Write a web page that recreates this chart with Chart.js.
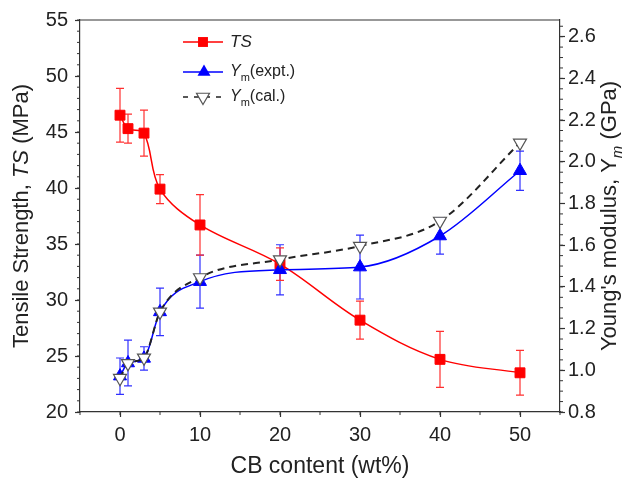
<!DOCTYPE html>
<html>
<head>
<meta charset="utf-8">
<script src="https://cdn.jsdelivr.net/npm/chart.js@4.4.0/dist/chart.umd.min.js"></script>
<style>
  html, body { margin: 0; padding: 0; background: #fff; }
  #contenedor { width: 634px; height: 481px; }
</style>
</head>
<body>
<div id="contenedor"><canvas id="chartTS"></canvas></div>
<script>
// Contenido de CB (wt%)
const cbContent = [0, 1, 3, 5, 10, 20, 30, 40, 50];

// Resistencia a la tracción TS (MPa) y su error
const tsValues = [46.5, 45.3, 44.9, 39.9, 36.7, 33.2, 28.2, 24.7, 23.5];
const tsError = [2.4, 1.3, 2.05, 1.3, 2.7, 1.45, 1.7, 2.5, 2.0];

// Módulo de Young (GPa): experimental y calculado
const ymExpt = [0.972, 1.035, 1.057, 1.28, 1.425, 1.482, 1.495, 1.644, 1.957];
const ymExptError = [0.087, 0.11, 0.056, 0.114, 0.127, 0.12, 0.153, 0.087, 0.094];
const ymCal = [0.962, 1.033, 1.06, 1.28, 1.445, 1.531, 1.596, 1.716, 2.091];

// Marcas de los ejes
const xTicks = [0, 10, 20, 30, 40, 50];
const tsTicks = [20, 25, 30, 35, 40, 45, 50, 55];
const ymTicks = [0.8, 1.0, 1.2, 1.4, 1.6, 1.8, 2.0, 2.2, 2.4, 2.6];

const fuente = 'Liberation Sans, Arial, sans-serif';
const ROJO = '#ff0000';
const AZUL = '#0000ff';
const EJE = '#333';

const puntos = (ys) => cbContent.map((x, i) => ({ x: x, y: ys[i] }));

// Texto con tramos en cursiva / subíndice
function textoMixto(ctx, tramos, x, y, size, alinear) {
  const fontDe = (t) => (t.italic ? 'italic ' : '') + (t.sub ? Math.round(size * 0.68) : size) + 'px ' + fuente;
  let total = 0;
  tramos.forEach(t => { ctx.font = fontDe(t); total += ctx.measureText(t.t).width; });
  let cx = alinear === 'center' ? x - total / 2 : x;
  ctx.textBaseline = 'middle';
  ctx.textAlign = 'left';
  tramos.forEach(t => {
    ctx.font = fontDe(t);
    ctx.fillText(t.t, cx, y + (t.sub ? size * 0.35 : 0));
    cx += ctx.measureText(t.t).width;
  });
}

function marcador(ctx, tipo, x, y, r, relleno, borde) {
  ctx.save();
  ctx.beginPath();
  if (tipo === 'rect') {
    const s = r * Math.SQRT1_2;
    ctx.rect(x - s, y - s, 2 * s, 2 * s);
  } else {
    const dir = tipo === 'down' ? -1 : 1;
    for (let k = 0; k < 3; k++) {
      const a = k * 2 * Math.PI / 3;
      const px = x + Math.sin(a) * r;
      const py = y - dir * Math.cos(a) * r;
      if (k === 0) ctx.moveTo(px, py); else ctx.lineTo(px, py);
    }
    ctx.closePath();
  }
  ctx.fillStyle = relleno;
  ctx.fill();
  if (borde) { ctx.strokeStyle = borde; ctx.lineWidth = 1.2; ctx.stroke(); }
  ctx.restore();
}

// Barras de error (se dibujan antes que los puntos)
const barrasError = {
  id: 'barrasError',
  beforeDatasetsDraw(chart) {
    const ctx = chart.ctx;
    chart.data.datasets.forEach((ds, i) => {
      if (!ds.errores) return;
      const meta = chart.getDatasetMeta(i);
      ctx.save();
      ctx.strokeStyle = ds.colorError;
      ctx.lineWidth = 1.2;
      ds.data.forEach((p, j) => {
        const px = meta.xScale.getPixelForValue(p.x);
        const y1 = meta.yScale.getPixelForValue(p.y + ds.errores[j]);
        const y2 = meta.yScale.getPixelForValue(p.y - ds.errores[j]);
        ctx.beginPath();
        ctx.moveTo(px, y1); ctx.lineTo(px, y2);
        ctx.moveTo(px - 4, y1); ctx.lineTo(px + 4, y1);
        ctx.moveTo(px - 4, y2); ctx.lineTo(px + 4, y2);
        ctx.stroke();
      });
      ctx.restore();
    });
  }
};

// Marcas menores, marco superior, títulos de ejes y leyenda
const decoracion = {
  id: 'decoracion',
  afterDraw(chart) {
    const { ctx, chartArea: a, scales } = chart;
    ctx.save();
    ctx.strokeStyle = EJE;
    ctx.lineWidth = 1;

    const menores = (scale, paso, fn) => {
      const n0 = Math.ceil(scale.min / paso - 1e-6);
      const n1 = Math.floor(scale.max / paso + 1e-6);
      for (let n = n0; n <= n1; n++) fn(scale.getPixelForValue(n * paso));
    };
    ctx.beginPath();
    menores(scales.x, 5, p => { ctx.moveTo(p, a.bottom); ctx.lineTo(p, a.bottom + 3); });
    menores(scales.y, 1, p => { ctx.moveTo(a.left, p); ctx.lineTo(a.left - 3, p); });
    menores(scales.y2, 0.05, p => { ctx.moveTo(a.right, p); ctx.lineTo(a.right + 3, p); });
    ctx.stroke();

    ctx.lineWidth = 1.2;
    ctx.beginPath();
    ctx.moveTo(a.left, a.top); ctx.lineTo(a.right, a.top);
    ctx.stroke();

    ctx.fillStyle = '#222';
    // título eje x
    textoMixto(ctx, [{ t: 'CB content (wt%)' }], (a.left + a.right) / 2, 467, 23, 'center');

    // título eje izquierdo
    ctx.save();
    ctx.translate(22, (a.top + a.bottom) / 2);
    ctx.rotate(-Math.PI / 2);
    textoMixto(ctx, [{ t: 'Tensile Strength, ' }, { t: 'TS', italic: true }, { t: ' (MPa)' }], 0, 0, 22, 'center');
    ctx.restore();

    // título eje derecho
    ctx.save();
    ctx.translate(610, (a.top + a.bottom) / 2);
    ctx.rotate(-Math.PI / 2);
    textoMixto(ctx, [{ t: "Young's modulus, Y" }, { t: 'm', italic: true, sub: true }, { t: ' (GPa)' }], 0, 0, 22, 'center');
    ctx.restore();

    // leyenda
    const lx0 = 183, lx1 = 223, tx = 230;
    ctx.lineWidth = 1.5;
    ctx.strokeStyle = ROJO;
    ctx.beginPath(); ctx.moveTo(lx0, 42); ctx.lineTo(lx1, 42); ctx.stroke();
    marcador(ctx, 'rect', 203, 42, 7, ROJO);
    ctx.strokeStyle = AZUL;
    ctx.beginPath(); ctx.moveTo(lx0, 72); ctx.lineTo(lx1, 72); ctx.stroke();
    marcador(ctx, 'up', 204, 72, 7.5, AZUL);
    ctx.strokeStyle = '#222';
    ctx.setLineDash([5, 6]);
    ctx.beginPath(); ctx.moveTo(lx0, 97); ctx.lineTo(lx1 + 2, 97); ctx.stroke();
    ctx.setLineDash([]);
    marcador(ctx, 'down', 203, 97, 7.5, '#fff', '#555');

    ctx.fillStyle = '#222';
    textoMixto(ctx, [{ t: 'TS', italic: true }], tx, 42, 17, 'left');
    textoMixto(ctx, [{ t: 'Y', italic: true }, { t: 'm', sub: true }, { t: '(expt.)' }], tx, 72, 16, 'left');
    textoMixto(ctx, [{ t: 'Y', italic: true }, { t: 'm', sub: true }, { t: '(cal.)' }], tx, 97, 16, 'left');
    ctx.restore();
  }
};

const ejeBase = {
  type: 'linear',
  grid: { display: true, drawOnChartArea: false, tickLength: 5, tickColor: EJE, tickWidth: 1.2 },
  border: { color: EJE, width: 1.2 },
  ticks: { font: { family: fuente, size: 20 }, color: '#222', autoSkip: false, maxRotation: 0 }
};

const chartTS = new Chart(document.getElementById('chartTS'), {
  type: 'scatter',
  data: {
    datasets: [
      {
        label: 'Ym(cal.)',
        data: puntos(ymCal),
        yAxisID: 'y2',
        showLine: true,
        cubicInterpolationMode: 'monotone',
        borderColor: '#222',
        borderWidth: 2,
        borderDash: [7, 5],
        pointStyle: 'triangle',
        pointRotation: 180,
        pointRadius: 7.5,
        pointBackgroundColor: '#fff',
        pointBorderColor: '#555',
        pointBorderWidth: 1.2
      },
      {
        label: 'Ym(expt.)',
        data: puntos(ymExpt),
        yAxisID: 'y2',
        showLine: true,
        cubicInterpolationMode: 'monotone',
        borderColor: AZUL,
        borderWidth: 1.5,
        pointStyle: 'triangle',
        pointRadius: 7.5,
        pointBackgroundColor: AZUL,
        pointBorderColor: AZUL,
        pointBorderWidth: 1,
        errores: ymExptError,
        colorError: '#3030ff'
      },
      {
        label: 'TS',
        data: puntos(tsValues),
        yAxisID: 'y',
        showLine: true,
        tension: 0.35,
        borderColor: ROJO,
        borderWidth: 1.5,
        pointStyle: 'rect',
        pointRadius: 7,
        pointBackgroundColor: ROJO,
        pointBorderColor: ROJO,
        pointBorderWidth: 1,
        errores: tsError,
        colorError: '#ff3030'
      }
    ]
  },
  options: {
    responsive: true,
    maintainAspectRatio: false,
    animation: false,
    layout: { padding: { top: 20, left: 0, right: 0, bottom: 0 } },
    plugins: { legend: { display: false }, tooltip: { enabled: false } },
    scales: {
      x: {
        ...ejeBase,
        min: -5, max: 55,
        ticks: { ...ejeBase.ticks, padding: 6 },
        afterBuildTicks: s => { s.ticks = xTicks.map(v => ({ value: v })); },
        afterFit: s => { s.height = 69; }
      },
      y: {
        ...ejeBase,
        position: 'left',
        min: 20, max: 55,
        ticks: { ...ejeBase.ticks, padding: 7 },
        afterBuildTicks: s => { s.ticks = tsTicks.map(v => ({ value: v })); },
        afterFit: s => { s.width = 80; }
      },
      y2: {
        ...ejeBase,
        position: 'right',
        min: 0.8, max: 2.68,
        ticks: { ...ejeBase.ticks, padding: 3, callback: v => Number(v).toFixed(1) },
        afterBuildTicks: s => { s.ticks = ymTicks.map(v => ({ value: v })); },
        afterFit: s => { s.width = 74; }
      }
    }
  },
  plugins: [barrasError, decoracion]
});
</script>
</body>
</html>
